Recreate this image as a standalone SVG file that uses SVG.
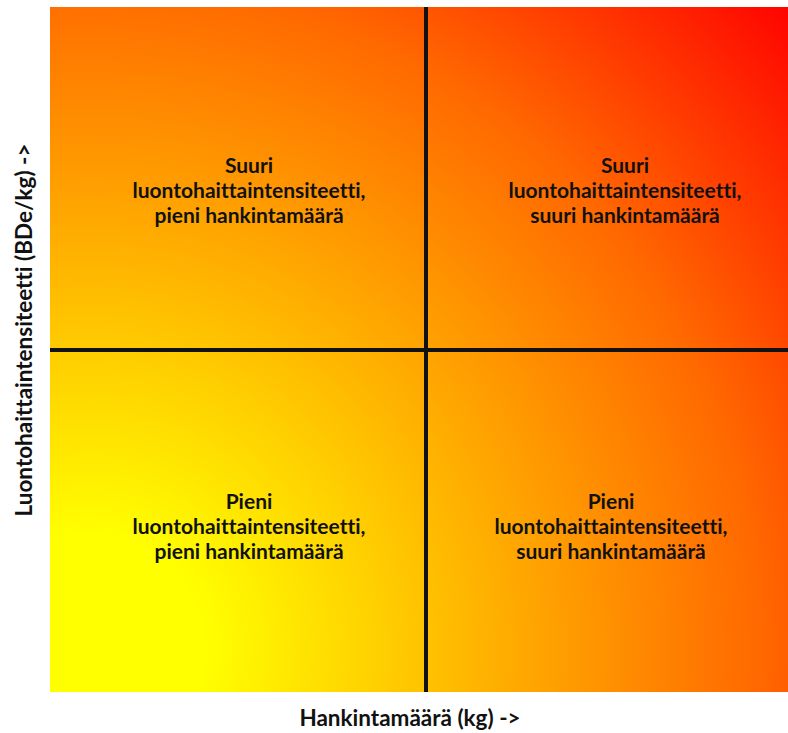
<svg xmlns="http://www.w3.org/2000/svg" width="788" height="733" viewBox="0 0 788 733">
<style>
text{font-variant-ligatures:none;font-feature-settings:"liga" 0}
.q{font-family:Lato,"Liberation Sans",sans-serif;font-weight:bold;font-size:21px;fill:#111;text-anchor:middle}
.ax{font-family:Lato,"Liberation Sans",sans-serif;font-weight:bold;font-size:22.5px;fill:#111;text-anchor:middle}
.ln{stroke:#111;stroke-width:4}
</style>
<defs>
<radialGradient id="g" gradientUnits="userSpaceOnUse" cx="90" cy="650" r="960">
<stop offset="0" stop-color="#FFFF00"/>
<stop offset="0.12" stop-color="#FFFF00"/>
<stop offset="0.45" stop-color="#FFA800"/>
<stop offset="0.7" stop-color="#FF6800"/>
<stop offset="1" stop-color="#FF0000"/>
</radialGradient>
</defs>
<rect width="788" height="733" fill="#fff"/>
<g id="background"><rect x="50" y="7" width="738" height="685" fill="url(#g)"/></g>
<g id="connectors">
<line class="ln" x1="426" y1="7" x2="426" y2="692"/>
<line class="ln" x1="50" y1="350" x2="788" y2="350"/>
</g>
<g id="q-top-left"><text class="q" x="249" y="173">Suuri</text><text class="q" x="249" y="198">luontohaittaintensiteetti,</text><text class="q" x="249" y="223">pieni hankintamäärä</text></g>
<g id="q-top-right"><text class="q" x="625" y="173">Suuri</text><text class="q" x="625" y="198">luontohaittaintensiteetti,</text><text class="q" x="625" y="223">suuri hankintamäärä</text></g>
<g id="q-bottom-left"><text class="q" x="249" y="509">Pieni</text><text class="q" x="249" y="534">luontohaittaintensiteetti,</text><text class="q" x="249" y="559">pieni hankintamäärä</text></g>
<g id="q-bottom-right"><text class="q" x="611" y="509">Pieni</text><text class="q" x="611" y="534">luontohaittaintensiteetti,</text><text class="q" x="611" y="559">suuri hankintamäärä</text></g>
<g id="x-axis"><text class="ax" x="410" y="726">Hankintamäärä (kg) -&gt;</text></g>
<g id="y-axis"><text class="ax" transform="translate(32,330) rotate(-90)">Luontohaittaintensiteetti (BDe/kg) -&gt;</text></g>
</svg>
